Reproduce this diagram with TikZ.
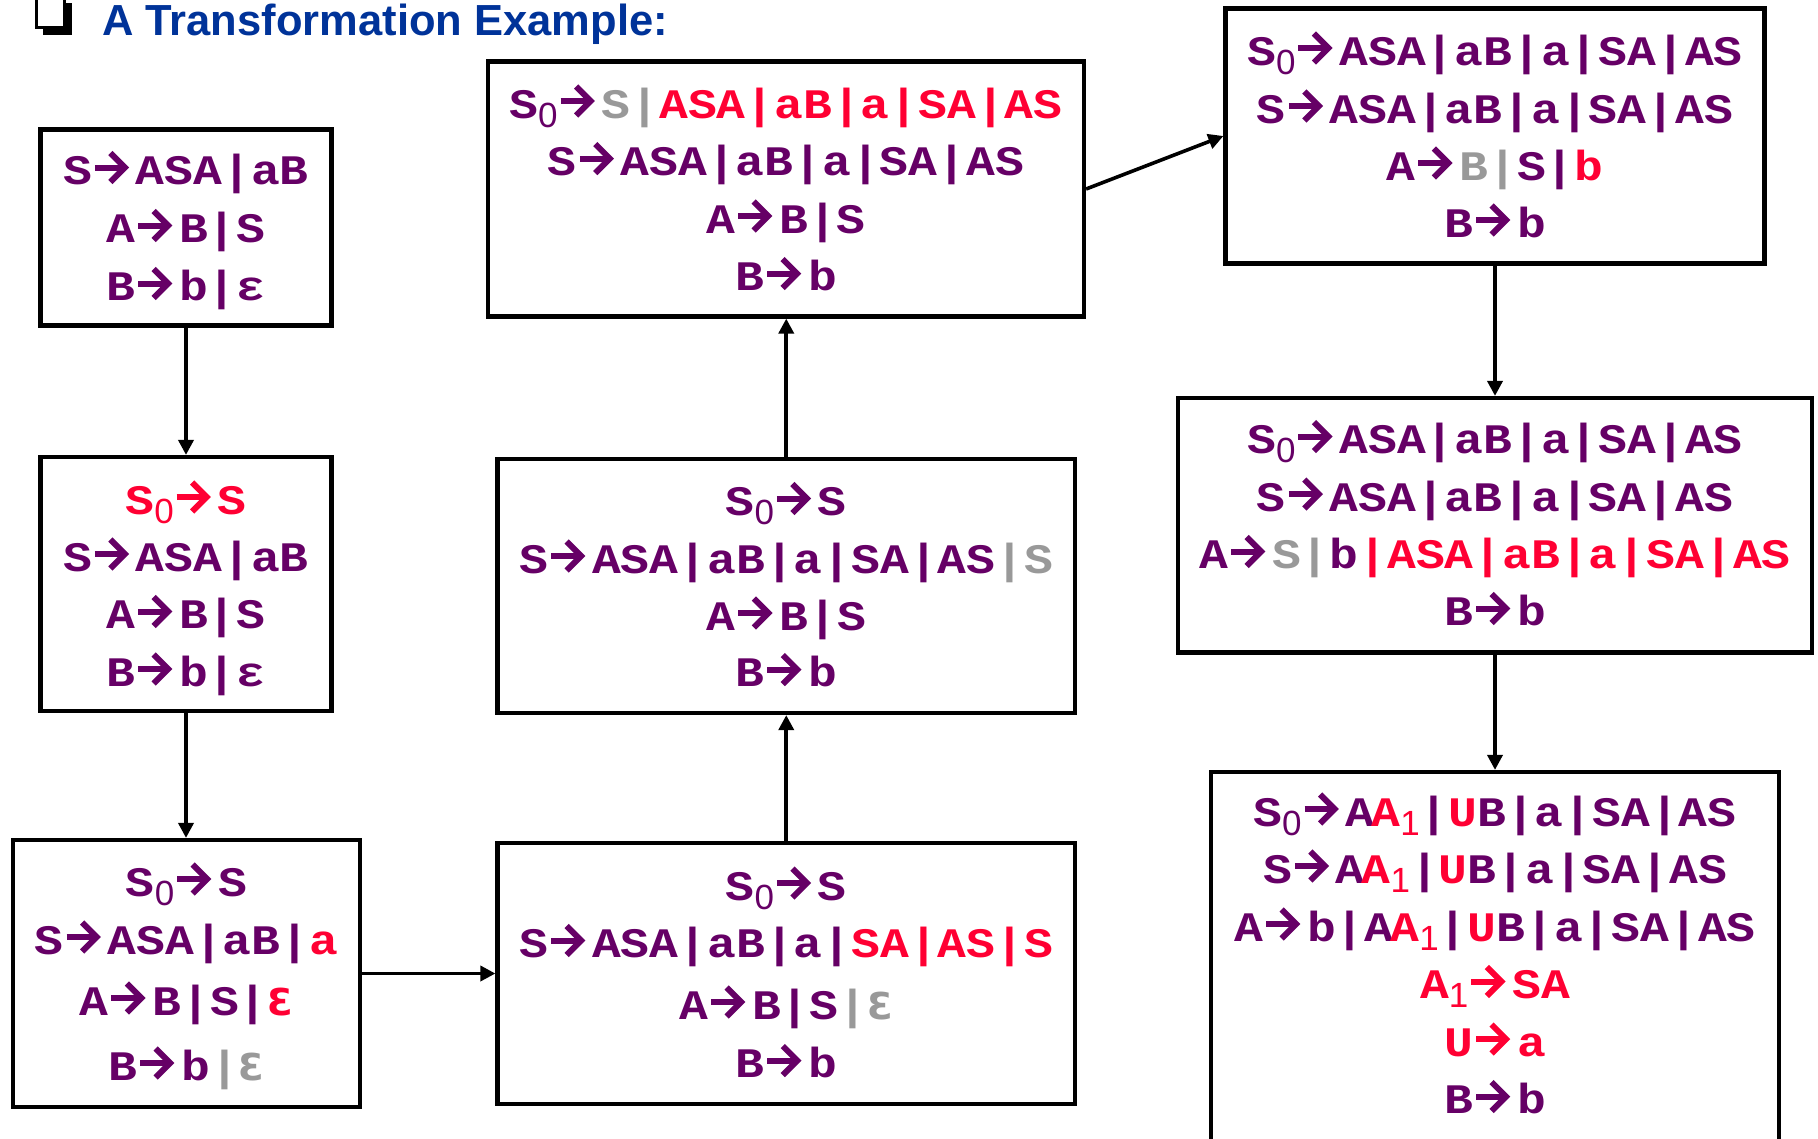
\documentclass[tikz,border=0pt]{standalone}
\usepackage{fontspec}
\usetikzlibrary{arrows.meta,calc}
\newfontfamily\monof{Liberation Mono}[FakeStretch=1.143]
\newfontfamily\sansf{Liberation Sans}
\newfontfamily\dvsf{DejaVu Sans}
\definecolor{pur}{RGB}{102,0,102}
\definecolor{hl}{RGB}{255,0,51}
\definecolor{gr}{RGB}{153,153,153}
\definecolor{blu}{RGB}{0,51,153}
\newcommand\rarr{\tikz[baseline=0pt,x=1pt,y=1pt,line width=6pt,line join=miter,line cap=butt]{\path (0,0) rectangle (44,1);\draw (3,17)--(31,17);\draw (18.5,31.5)--(33,17)--(18.5,2.5);}}
\newcommand\subs[1]{\raisebox{-9pt}{\sansf\mdseries\fontsize{35}{35}\selectfont #1}}
\newcommand\ee{{\dvsf\bfseries\fontsize{37}{37}\selectfont Ɛ}}
\newcommand\redt[1]{{\color{hl}#1}}
\newcommand\grt[1]{{\color{gr}#1}}
\tikzset{
  txt/.style={anchor=base, inner sep=0pt, text=pur, font=\monof\bfseries\fontsize{42}{50}\selectfont},
  box/.style={draw=black, line width=4.2pt, inner sep=0pt},
  conn/.style={line width=3.6pt, -{Triangle[length=15pt,width=15pt]}},
}
\begin{document}
\begin{tikzpicture}[x=1pt,y=-1pt]
\fill[white] (0,0) rectangle (1818,1138);
\useasboundingbox (0,0) rectangle (1818,1138);
% title
\fill[black] (43,3) rectangle (71.5,34.5);
\filldraw[fill=white,draw=black,line width=2.5pt] (36.5,-4) rectangle (64.5,27.5);
\node[anchor=base west, inner sep=0pt, text=blu, font=\sansf\bfseries\fontsize{43.5}{44}\selectfont] (title) at (102,35) {A Transformation Example:};
% boxes
\node[box, minimum width=291pt, minimum height=196pt] (b1) at (186,227.5) {};
\node[box, minimum width=291pt, minimum height=254pt] (b2) at (186,584) {};
\node[box, minimum width=347pt, minimum height=267pt] (b3) at (186.5,973.5) {};
\node[box, minimum width=577.5pt, minimum height=261pt] (b4) at (786.25,973.5) {};
\node[box, minimum width=577.5pt, minimum height=254pt] (b5) at (786.25,586) {};
\node[box, minimum width=596pt, minimum height=255pt] (b6) at (786,189) {};
\node[box, minimum width=539pt, minimum height=255pt] (b7) at (1495,136) {};
\node[box, minimum width=634pt, minimum height=254.5pt] (b8) at (1495,525.25) {};
\node[box, minimum width=568pt, minimum height=370pt] (b9) at (1495,957) {};
% connectors
\draw[conn] (b1.south) -- (b2.north);
\draw[conn] (b2.south) -- (b2.south |- b3.north);
\draw[conn] (b3.east) -- (b3.east -| b4.west);
\draw[conn] (b4.north) -- (b4.north |- b5.south);
\draw[conn] (b5.north) -- (b5.north |- b6.south);
\draw[conn] (b6.east) -- (b7.west);
\draw[conn] (b7.south) -- (b8.north);
\draw[conn] (b8.south) -- (b9.north);
% box 1
\node[txt] (t1a) at (186,184.5) {S\rarr ASA|aB};
\node[txt] (t1b) at (186,242.5) {A\rarr B|S};
\node[txt] (t1c) at (186,300.5) {B\rarr b|ε};
% box 2
\node[txt] (t2a) at (186,514) {\redt{S\subs{0}\rarr S}};
\node[txt] (t2b) at (186,571) {S\rarr ASA|aB};
\node[txt] (t2c) at (186,628.5) {A\rarr B|S};
\node[txt] (t2d) at (186,686) {B\rarr b|ε};
% box 3
\node[txt] (t3a) at (186.5,896) {S\subs{0}\rarr S};
\node[txt] (t3b) at (186.5,954) {S\rarr ASA|aB|\redt{a}};
\node[txt] (t3c) at (186.5,1015) {A\rarr B|S|\redt{\ee}};
\node[txt] (t3d) at (186.5,1080) {B\rarr b\grt{|\ee}};
% box 4
\node[txt] (t4a) at (786.25,900) {S\subs{0}\rarr S};
\node[txt] (t4b) at (786.25,957.5) {S\rarr ASA|aB|a|\redt{SA|AS|S}};
\node[txt] (t4c) at (786.25,1019) {A\rarr B|S\grt{|\ee}};
\node[txt] (t4d) at (786.25,1077.5) {B\rarr b};
% box 5
\node[txt] (t5a) at (786.25,515.5) {S\subs{0}\rarr S};
\node[txt] (t5b) at (786.25,573) {S\rarr ASA|aB|a|SA|AS\grt{|S}};
\node[txt] (t5c) at (786.25,630) {A\rarr B|S};
\node[txt] (t5d) at (786.25,686.5) {B\rarr b};
% box 6
\node[txt] (t6a) at (786,118) {S\subs{0}\rarr\grt{S|}\redt{ASA|aB|a|SA|AS}};
\node[txt] (t6b) at (786,175.5) {S\rarr ASA|aB|a|SA|AS};
\node[txt] (t6c) at (786,233) {A\rarr B|S};
\node[txt] (t6d) at (786,290.5) {B\rarr b};
% box 7
\node[txt] (t7a) at (1495,65) {S\subs{0}\rarr ASA|aB|a|SA|AS};
\node[txt] (t7b) at (1495,123) {S\rarr ASA|aB|a|SA|AS};
\node[txt] (t7c) at (1495,180) {A\rarr\grt{B|}S|\redt{b}};
\node[txt] (t7d) at (1495,237) {B\rarr b};
% box 8
\node[txt] (t8a) at (1495,453.5) {S\subs{0}\rarr ASA|aB|a|SA|AS};
\node[txt] (t8b) at (1495,511) {S\rarr ASA|aB|a|SA|AS};
\node[txt] (t8c) at (1495,568.5) {A\rarr\grt{S|}b\redt{|ASA|aB|a|SA|AS}};
\node[txt] (t8d) at (1495,625.5) {B\rarr b};
% box 9
\node[txt] (t9a) at (1495,826) {S\subs{0}\rarr A\redt{\kern-3pt A\subs{1}}|\redt{U}B|a|SA|AS};
\node[txt] (t9b) at (1495,883) {S\rarr A\redt{\kern-3pt A\subs{1}}|\redt{U}B|a|SA|AS};
\node[txt] (t9c) at (1495,941) {A\rarr b|A\redt{\kern-3pt A\subs{1}}|\redt{U}B|a|SA|AS};
\node[txt] (t9d) at (1495,998.5) {\redt{A\subs{1}\rarr SA}};
\node[txt] (t9e) at (1495,1056) {\redt{U\rarr a}};
\node[txt] (t9f) at (1495,1113.5) {B\rarr b};
\end{tikzpicture}
\end{document}
